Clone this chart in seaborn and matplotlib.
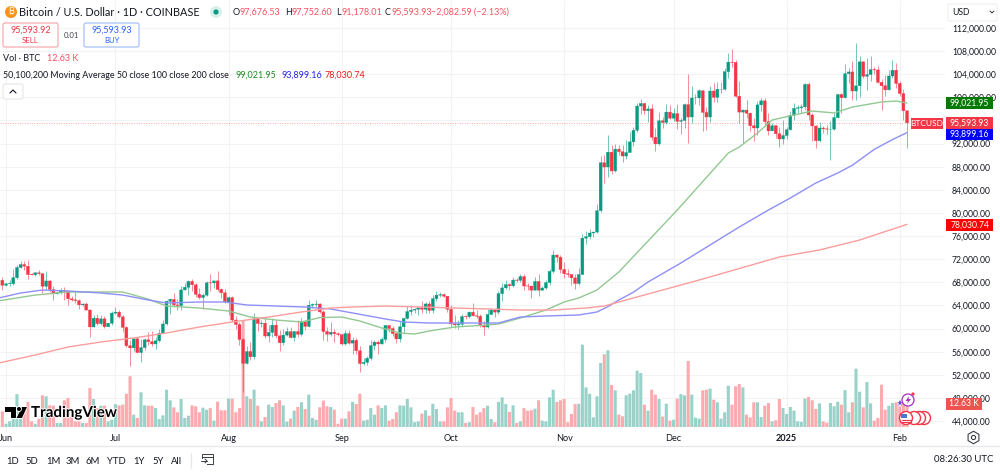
import numpy as np
import pandas as pd
import matplotlib
matplotlib.use("Agg")
import matplotlib.pyplot as plt
import matplotlib.patheffects as pe
from matplotlib.patches import Rectangle, FancyBboxPatch, Circle, Polygon
import seaborn as sns

# valori, un elemento per giorno: 31 mag 2024 -> 3 feb 2025
first_open = 68350
last_open = 97676.53

closes = [
    67500,
    67750, 67760, 68800, 70560, 71080, 70790, 69350, 69300, 69650, 69500,
    67320, 68240, 66750, 66010, 66190, 66640, 66490, 65150, 64960, 64840,
    64100, 64250, 63210, 60280, 61800, 60860, 61680, 60320, 60930, 62680,
    62850, 62030, 60200, 57040, 56660, 58230, 55860, 56710, 58050, 57730,
    57340, 57890, 59200, 60800, 64720, 65050, 64090, 63990, 66690, 67150,
    68160, 67570, 65930, 65370, 65780, 67910, 67900, 68250, 66780, 66190, 64620,
    65350, 61480, 60690, 58110, 53990, 56030, 55120, 61700, 60880, 60940,
    58710, 59350, 60600, 58740, 57560, 58870, 59480, 58450, 59490, 59020,
    61160, 60380, 64050, 64180, 64250, 62880, 59500, 59030, 59370, 59120, 58970,
    57330, 59130, 57480, 57970, 56160, 53950, 54160, 54870, 57050, 57650,
    57340, 58130, 60540, 60010, 59130, 58210, 60310, 61760, 62950, 63200,
    63350, 63580, 63330, 64260, 63150, 65180, 65780, 65880, 65600, 63330,
    60800, 60630, 60750, 62080, 62060, 62820, 62220, 62130, 60580, 60270,
    62440, 63200, 62850, 66050, 67040, 67610, 67400, 68400, 68360, 69000,
    67370, 67360, 66650, 68160, 66640, 67010, 67960, 69900, 72720, 72340, 70220,
    69500, 69370, 68770, 67800, 69360, 75640, 75900, 76540, 76690, 80400,
    88700, 87950, 90520, 87270, 91050, 90600, 89850, 90450, 92300, 94300,
    98500, 98950, 97700, 98000, 93100, 91950, 95950, 95650, 97450, 96400,
    97200, 95850, 96000, 98750, 96600, 99900, 99900, 101150, 97400, 96600,
    101100, 100000, 101400, 101400, 104450, 106100, 106050, 100200, 97450, 97800,
    97250, 95100, 94700, 98700, 99400, 95800, 94200, 95100, 93700, 92800, 93400,
    94400, 96900, 98100, 98200, 98350, 102250, 96950, 95050, 92500, 94700,
    94550, 94500, 94500, 96500, 100500, 99950, 104100, 104400, 101100, 102000,
    106150, 103650, 103950, 104800, 104750, 102600, 102000, 101300, 103700, 104700, 102400,
    100650, 97676.53, 95593.93,
]

highs = [
    69000,
    67850, 68400, 70250, 71050, 71750, 71650, 71950, 69550, 69850, 70150,
    69550, 70000, 68450, 67300, 66400, 66950, 67250, 65700, 65700, 66450,
    65050, 64500, 64550, 63400, 62400, 62450, 62300, 62200, 61050, 63000,
    63800, 63250, 62300, 60500, 58000, 58450, 58350, 58200, 58300, 59400,
    59500, 58550, 59850, 61400, 65000, 65350, 66100, 65100, 67400, 67800,
    68350, 68500, 67800, 67100, 66100, 68250, 69400, 68300, 70000, 66950, 66800,
    65600, 65550, 62150, 61100, 58300, 57000, 57700, 62750, 61750, 61450,
    61800, 60650, 61800, 61500, 59800, 59850, 60250, 60250, 59600, 61400,
    61800, 61400, 64950, 64500, 65000, 64500, 63200, 60200, 61150, 59900, 59450,
    59050, 59800, 59800, 58500, 58300, 57000, 54850, 55300, 58100, 58050,
    58000, 58600, 60650, 60650, 60400, 59200, 61350, 61800, 63850, 64100,
    63550, 63800, 64750, 64650, 64800, 65850, 66500, 66300, 66100, 65700,
    64100, 62400, 61450, 62450, 62400, 63000, 64450, 63200, 62550, 61300,
    63400, 63500, 63250, 66500, 67900, 68400, 67900, 68950, 68700, 69450,
    69500, 67850, 67450, 68850, 69450, 67350, 68350, 70250, 73600, 72950, 72650,
    71600, 70350, 69450, 69450, 70550, 76400, 76950, 77250, 76800, 81500,
    89900, 89950, 93450, 91800, 91900, 91800, 91700, 92600, 94000, 94900,
    99050, 99800, 99000, 98700, 98900, 94750, 97400, 96650, 98800, 98650,
    98150, 98900, 96400, 99000, 104050, 102000, 100500, 101400, 101200, 98300,
    101900, 102500, 102650, 102600, 105100, 107700, 108350, 106500, 102800, 98000,
    99500, 97400, 96500, 99400, 99900, 99950, 97300, 95650, 95200, 94900, 96100,
    94900, 97700, 98950, 98700, 98800, 102500, 102700, 97250, 95300, 95800,
    95000, 95300, 95900, 97300, 100650, 100750, 105850, 105000, 106300, 109350,
    107200, 106350, 106800, 107100, 105250, 105450, 103200, 103800, 104800, 106450, 106000,
    102800, 101450, 97752.60,
]

lows = [
    66650,
    67400, 67300, 67600, 68550, 70400, 70150, 68500, 69200, 69150, 69250,
    66100, 66900, 66300, 64900, 65900, 66050, 64950, 64000, 64700, 64500,
    63400, 63950, 63200, 58500, 60250, 60700, 60600, 60050, 60450, 60700,
    62500, 61800, 59450, 56800, 53600, 56050, 55750, 54300, 56300, 57200,
    56950, 56550, 57750, 59250, 60650, 62500, 63900, 63250, 63300, 66700,
    65800, 66550, 65450, 65100, 63450, 65650, 66500, 67100, 66500, 65300, 64500,
    62300, 61200, 59850, 57150, 49050, 53950, 54550, 54750, 59550, 60300,
    58300, 57650, 58500, 58400, 56100, 57100, 58800, 58450, 57850, 58550,
    58800, 59800, 60350, 63600, 63800, 62750, 58050, 57850, 58800, 57750, 58750,
    57200, 57150, 57400, 55600, 55650, 52550, 53750, 53650, 54600, 56350,
    55550, 57300, 57650, 59450, 58700, 57500, 57600, 59200, 61600, 62350,
    62750, 62400, 62650, 62650, 62700, 62700, 64850, 65450, 65450, 62900,
    60200, 60050, 59950, 60450, 61650, 61850, 62100, 61850, 60350, 58900,
    60100, 62450, 62000, 62450, 64800, 66800, 66750, 67150, 68100, 68000,
    66750, 66600, 65300, 66650, 65550, 66600, 66850, 67500, 69700, 71450, 69700,
    68800, 68850, 67500, 66800, 67500, 69500, 74550, 75500, 75800, 76500,
    80250, 85100, 86250, 86700, 87150, 90100, 88800, 89400, 91500, 91600,
    94050, 97200, 97150, 95750, 92600, 90800, 91800, 94700, 95350, 96200,
    95950, 94500, 93600, 94700, 92100, 95500, 98900, 98700, 94200, 94300,
    95700, 99200, 99200, 100700, 101250, 103300, 105300, 100000, 95600, 92100,
    96400, 94200, 92500, 93500, 97600, 95150, 93500, 94400, 93050, 91400, 92000,
    92750, 94300, 96000, 97250, 97250, 97900, 96100, 92500, 91200, 92200,
    93800, 93700, 89250, 94300, 96500, 97300, 99950, 102500, 99500, 99550,
    100100, 103300, 101250, 102750, 104100, 102500, 97750, 100250, 101300, 103300, 101550,
    100300, 96150, 91178.01,
]

# volumi in migliaia di BTC
volumes = [
    8.6,
    1.8, 3.1, 4.6, 18.1, 4.6, 10.4, 13.8, 3.1, 1.8, 4.4,
    17.4, 16.9, 11.9, 11.7, 2.2, 2.2, 14.7, 15.9, 5.5, 3.1,
    3.1, 2.2, 2.2, 21.4, 15.4, 10.4, 11.7, 11.7, 3.1, 4.0,
    12.6, 11.9, 12.3, 18.3, 27.9, 6.8, 5.0, 19.1, 11.9, 11.7,
    11.7, 10.4, 4.4, 6.4, 20.5, 14.7, 10.8, 8.1, 15.4, 5.0,
    6.2, 11.9, 11.4, 8.1, 10.6, 9.5, 10.4, 3.5, 13.9, 9.2, 9.2,
    15.6, 15.6, 8.1, 10.4, 58.3, 16.9, 15.4, 20.5, 11.7, 3.1,
    5.5, 12.3, 11.0, 13.2, 14.7, 11.9, 2.9, 4.6, 9.0, 11.0,
    13.6, 9.9, 17.8, 5.0, 4.0, 10.8, 14.5, 11.4, 11.0, 9.5, 1.8,
    4.6, 4.6, 8.6, 13.8, 12.6, 18.3, 3.5, 4.0, 10.4, 6.8,
    11.9, 10.4, 11.9, 3.5, 4.4, 8.1, 11.9, 11.7, 15.4, 10.8,
    2.6, 3.1, 7.3, 9.2, 6.2, 12.8, 9.9, 3.1, 3.1, 10.8,
    15.9, 9.0, 8.1, 8.1, 2.2, 2.6, 11.0, 6.8, 8.1, 10.4,
    11.7, 4.4, 2.6, 13.8, 16.3, 12.6, 8.3, 11.9, 2.2, 3.1,
    10.4, 9.0, 9.2, 10.1, 14.7, 3.5, 3.1, 16.3, 20.5, 13.8, 14.7,
    15.4, 2.6, 7.2, 12.6, 12.8, 45.3, 21.8, 18.3, 5.3, 16.9,
    35.2, 40.0, 42.2, 23.1, 20.2, 6.8, 5.9, 17.4, 18.3, 20.2,
    31.0, 29.7, 12.3, 9.0, 20.5, 17.8, 15.4, 5.7, 12.8, 3.5,
    4.0, 15.6, 18.1, 17.4, 36.3, 17.8, 5.1, 4.6, 20.2, 20.5,
    21.1, 15.0, 13.6, 4.6, 8.1, 22.7, 12.3, 22.4, 23.6, 21.8,
    6.8, 5.3, 13.6, 13.6, 5.5, 11.7, 13.2, 3.1, 3.7, 15.4, 10.4,
    7.2, 11.0, 9.0, 3.1, 2.8, 15.6, 16.5, 14.7, 9.9, 13.0,
    3.1, 2.4, 13.2, 11.4, 13.9, 12.3, 20.3, 8.1, 13.6, 32.1,
    19.4, 10.8, 24.7, 13.0, 3.5, 5.0, 23.3, 9.5, 11.7, 13.2, 13.6,
    11.4, 13.2, 12.63,
]

# medie mobili lette a intervalli (giorno 0 = 1 giugno)
ma50_days = [-2, 8, 17, 26, 32, 39, 44, 53, 61, 67, 74, 81, 86, 92, 97, 103, 108, 112, 116,
             123, 132, 135, 141, 148, 153, 157, 162, 168, 184, 198, 201, 206, 210, 216, 221,
             227, 232, 240, 244, 247]
ma50_vals = [64800, 65800, 66330, 66330, 66330, 65100, 63900, 63560, 63040, 62000, 61480, 61140,
             61900, 62000, 61310, 60100, 59235, 59060, 59580, 60270, 60620, 60790, 61830, 63210,
             64600, 65290, 66670, 69790, 80510, 90375, 91410, 93835, 96080, 96950, 97640, 97300,
             98330, 99200, 99370, 99021.95]

ma100_days = [-2, 4, 10, 17, 26, 32, 39, 44, 53, 60, 66, 74, 82, 89, 95, 104, 109, 116, 125,
              135, 141, 148, 157, 162, 165, 168, 172, 176, 185, 193, 201, 209, 215, 222, 228,
              232, 238, 243, 247]
ma100_vals = [65290, 66155, 66670, 66500, 66155, 65800, 64940, 64425, 64600, 64600, 64080, 63900,
              63730, 63390, 62700, 61660, 61140, 60965, 60965, 60965, 62000, 62180, 62350, 62870,
              63800, 64940, 66300, 68060, 71345, 74460, 77570, 80510, 82590, 85185, 86915,
              88250, 91000, 92700, 93899.16]

ma200_days = [-2, 8, 17, 26, 35, 44, 53, 62, 72, 81, 89, 95, 104, 114, 123, 132, 141, 150, 159,
              164, 168, 190, 212, 223, 234, 247]
ma200_vals = [54045, 55430, 56810, 57680, 58370, 59235, 60270, 61140, 62000, 62870, 63560, 63730,
              63900, 63730, 63560, 63390, 63210, 63210, 63560, 63900, 64600, 68400, 72380, 73600,
              75320, 78030.74]

month_days = [0, 30, 61, 92, 122, 153, 183, 214, 245]
month_labels = ["Jun", "Jul", "Aug", "Sep", "Oct", "Nov", "Dec", "2025", "Feb"]
price_ticks = list(range(44000, 116000, 4000))

UP = "#089981"
DOWN = "#f23645"
RED_TEXT = "#f7525f"
TEXT = "#131722"
GRID = "#f3f3f4"
W, H = 1000, 474
XLIM = (-1.645, 257.4)
YLIM = (42108, 116844)

sns.set_theme(style="white")
plt.rcParams["font.family"] = ["Lato", "DejaVu Sans"]

days = np.arange(-1, len(closes) - 1)
closes = np.array(closes, dtype=float)
opens = np.concatenate([[first_open], closes[:-1]])
opens[-1] = last_open
is_up = closes >= opens

fig = plt.figure(figsize=(W / 100, H / 100), dpi=100, facecolor="white")

# tre assi sovrapposti: griglia, volumi, prezzi (da 0 a 945 px, da 0 a 432 px)
rect = [0, (H - 432) / H, 945 / W, 432 / H]
ax_bg = fig.add_axes(rect, zorder=0)
ax_vol = fig.add_axes(rect, zorder=1)
ax = fig.add_axes(rect, zorder=2)
ax_vol.patch.set_visible(False)
ax.patch.set_visible(False)

# griglia
ax_bg.set_xlim(*XLIM)
ax_bg.set_ylim(*YLIM)
ax_bg.set_xticks(month_days)
ax_bg.set_yticks(price_ticks)
ax_bg.grid(True, color=GRID, lw=0.8)
ax_bg.tick_params(length=0, labelbottom=False, labelleft=False)

# volumi
vol_df = pd.DataFrame({
    "day": days,
    "vol": volumes,
    "side": np.where(is_up, "up", "down"),
})
sns.barplot(data=vol_df, x="day", y="vol", hue="side", palette={"up": "#98d2c8", "down": "#fbaaae"},
            native_scale=True, dodge=False, width=0.84, saturation=1, legend=False, linewidth=0, ax=ax_vol)
for bar in ax_vol.patches:
    bar.set_snap(False)
ax_vol.set_xlim(*XLIM)
ax_vol.set_ylim(-2.75, 234.85)
ax_vol.set_xticks([])
ax_vol.set_yticks([])
ax_vol.set_xlabel("")
ax_vol.set_ylabel("")

# candele
col = np.where(is_up, UP, DOWN)
ax.vlines(days, lows, highs, colors=col, lw=0.65, alpha=0.6, zorder=2)
ax.bar(days, np.abs(closes - opens), bottom=np.minimum(opens, closes), width=0.8,
       color=col, edgecolor=col, linewidth=0.25, zorder=3, snap=False)

# medie mobili
sns.lineplot(x=ma50_days, y=ma50_vals, color="#92c892", lw=1.0, errorbar=None, ax=ax, zorder=4)
sns.lineplot(x=ma100_days, y=ma100_vals, color="#8f8ff8", lw=1.0, errorbar=None, ax=ax, zorder=4)
sns.lineplot(x=ma200_days, y=ma200_vals, color="#fb9d9d", lw=1.0, errorbar=None, ax=ax, zorder=4)

ax.axhline(closes[-1], color="#f23645", lw=0.7, ls=(0, (1, 1.5)), alpha=0.45, zorder=1)

ax.set_xlim(*XLIM)
ax.set_ylim(*YLIM)
ax.yaxis.tick_right()
ax.set_yticks(price_ticks)
ax.set_yticklabels([f"{p:,.2f}" for p in price_ticks], fontsize=6.2, color=TEXT)
ax.set_xticks(month_days)
ax.set_xticklabels(month_labels, fontsize=6.6, color=TEXT)
ax.get_xticklabels()[7].set_fontweight("bold")
ax.tick_params(axis="y", length=0, pad=5)
ax.tick_params(axis="x", length=0, pad=1.5)
ax.set_xlabel("")
ax.set_ylabel("")
for a in (ax, ax_vol, ax_bg):
    sns.despine(ax=a, left=True, right=True, top=True, bottom=True)

# interfaccia sopra al grafico, coordinate in pixel
ui = fig.add_axes([0, 0, 1, 1], zorder=20)
ui.set_xlim(0, W)
ui.set_ylim(H, 0)
ui.axis("off")


def label(x, y, s, color=TEXT, size=6.5, ha="left", **kw):
    return ui.text(x, y, s, color=color, fontsize=size, ha=ha, va="center", **kw)


def tag(x0, x1, y0, y1, color, s, size=6.2):
    ui.add_patch(Rectangle((x0, y0), x1 - x0, y1 - y0, color=color, lw=0))
    ui.text((x0 + x1) / 2, (y0 + y1) / 2, s, color="white", fontsize=size, ha="center", va="center")


def box(x0, x1, y0, y1, edge, face="white", lw=0.8):
    ui.add_patch(FancyBboxPatch((x0 + 2, y0 + 2), x1 - x0 - 4, y1 - y0 - 4, boxstyle="round,pad=2",
                                fc=face, ec=edge, lw=lw))


# titolo
ui.add_patch(Circle((11, 12), 6, color="#f7931a", lw=0))
label(11, 12, "₿", color="white", size=6.5, ha="center",
      family=["Inter", "Roboto", "Noto Sans", "Open Sans", "DejaVu Sans"])
label(19, 12, "Bitcoin / U.S. Dollar · 1D · COINBASE", size=7.8)
ui.add_patch(Circle((216, 12), 6, color="#d8f0ec", lw=0))
ui.add_patch(Circle((216, 12), 2.6, color=UP, lw=0))
for x, letter, xv, val in [(233, "O", 240, "97,676.53"), (285, "H", 291, "97,752.60"),
                           (336, "L", 342, "91,178.01"), (385, "C", 391, "95,593.93")]:
    label(x, 12, letter)
    label(xv, 12, val, color=RED_TEXT)
label(431, 12, "−2,082.59 (−2.13%)", color=RED_TEXT)

# sell / buy
box(3, 58, 23, 47, "#f7a0a8")
label(30.5, 30, "95,593.92", color=DOWN, ha="center")
label(30.5, 40, "SELL", color=DOWN, size=5.6, ha="center")
label(71, 35, "0.01", size=5.6, ha="center", alpha=0.8)
box(84, 139, 23, 47, "#9db8fb")
label(111.5, 30, "95,593.93", color="#2962ff", ha="center")
label(111.5, 40, "BUY", color="#2962ff", size=5.6, ha="center")

# legende indicatori
label(3, 58, "Vol · BTC")
label(47, 58, "12.63 K", color=RED_TEXT)
label(3, 75, "50,100,200 Moving Average 50 close 100 close 200 close", size=6.4)
label(236, 75, "99,021.95", color="#1f8c1f")
label(281, 75, "93,899.16", color="#2222ee")
label(325, 75, "78,030.74", color="#f01818")
box(3, 23, 84, 99, "#e6e6e8")
ui.plot([10, 13, 16], [93, 90, 93], color=TEXT, lw=0.8)

# logo
for patch in [Polygon([(5, 407), (16, 407), (16, 418), (11, 418), (11, 411.5), (5, 411.5)], fc="black", lw=0),
              Polygon([(22, 407), (27, 407), (22, 418), (16.5, 418)], fc="black", lw=0),
              Circle((19, 409), 2, fc="black", lw=0)]:
    patch.set_path_effects([pe.withStroke(linewidth=1.2, foreground="white")])
    ui.add_patch(patch)
label(31, 413, "TradingView", color="black", size=10.9, fontweight="bold",
      path_effects=[pe.withStroke(linewidth=1.2, foreground="white")])

# scala prezzi: etichette colorate
box(948, 997, 4, 21, "#f0f0f2")
label(952, 12, "USD", size=6.2)
ui.plot([990, 992, 994], [11, 13, 11], color=TEXT, lw=0.6)
tag(946, 993, 97, 109, "#047a04", "99,021.95")
tag(911, 943, 118, 129, "#f23645", "BTCUSD", size=6)
tag(946, 993, 117, 128.5, "#f23645", "95,593.93")
tag(946, 993, 128.5, 140, "#0000ff", "93,899.16")
tag(946, 993, 219, 231, "#ff0000", "78,030.74")
tag(946, 982, 398, 410, "#ef5350", "12.63 K")

# icone evento
ui.add_patch(Circle((908, 400), 6, fc="white", ec="#a02fc0", lw=0.9))
ui.add_patch(Polygon([(909, 396), (905.5, 401), (908, 401), (907, 404), (911, 399), (908.5, 399)], fc="#a02fc0", lw=0))
ui.plot([899.5], [403], marker="*", ms=5, color="#6a3de8", mew=0)
ui.add_patch(Circle((913, 394), 1.6, color="#f23645", lw=0))
for cx in [924, 919, 914]:
    ui.add_patch(Circle((cx, 418), 6.5, fc="white", ec="#f23645", lw=1.0))
ui.add_patch(Circle((906, 418), 6.5, fc="white", ec="#f23645", lw=1.0))
ui.add_patch(Rectangle((901, 413.5), 5.5, 4.5, color="#4a78c8", lw=0))
for yy in [419.5, 422]:
    ui.plot([902, 910.5], [yy, yy], color="#f23645", lw=0.8)

# ingranaggio
ui.plot([973], [437], marker="h", ms=9, mfc="white", mec="#3a3e48", mew=0.8)
ui.plot([973], [437], marker="o", ms=3, mfc="white", mec="#3a3e48", mew=0.8)

# barra inferiore
ui.plot([0, W], [446, 446], color="#e6e7ea", lw=0.9)
for x, s in [(13, "1D"), (32, "5D"), (53, "1M"), (73, "3M"), (93, "6M"), (116, "YTD"),
             (139, "1Y"), (158, "5Y"), (177, "All")]:
    label(x, 461, s, ha="center", size=6.8)
ui.plot([191, 191], [453, 468], color="#e6e7ea", lw=0.9)
ui.add_patch(Rectangle((202, 454), 11, 10, fc="none", ec="#3a3e48", lw=0.7))
ui.plot([202, 213], [457, 457], color="#3a3e48", lw=0.7)
ui.add_patch(Rectangle((200, 459), 7, 6.5, fc="white", lw=0))
ui.plot([201, 207], [461, 461], color="#3a3e48", lw=0.7)
ui.plot([205, 207, 205], [459, 461, 463], color="#3a3e48", lw=0.7)
label(993, 460, "08:26:30 UTC", ha="right", size=6.9)

fig.savefig("out.png", dpi=100)
